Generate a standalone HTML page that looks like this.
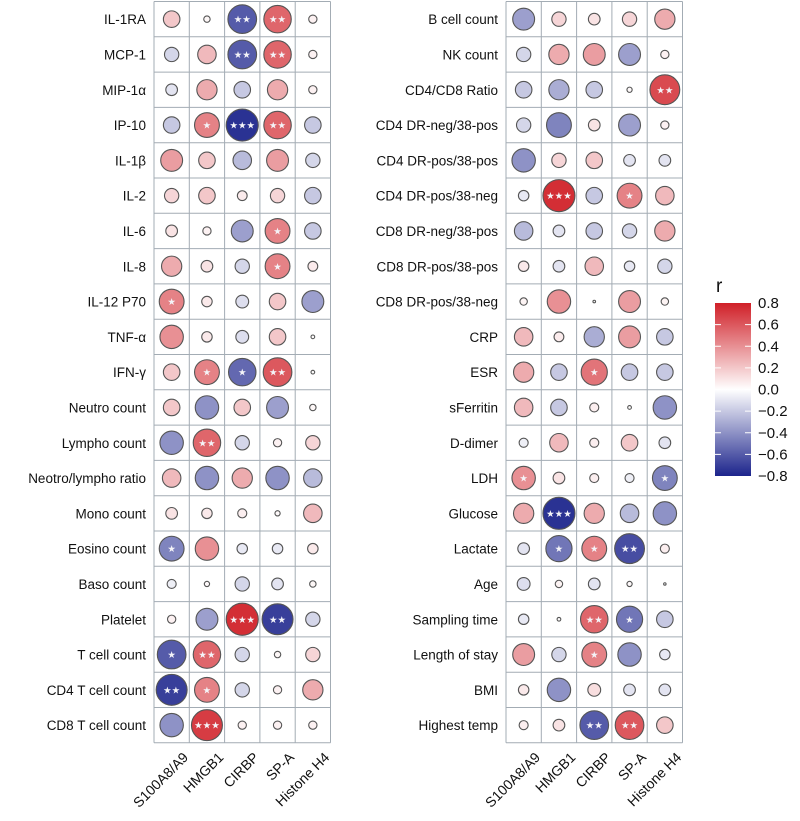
<!DOCTYPE html>
<html><head><meta charset="utf-8"><style>
body{margin:0;background:#fff;}
svg{display:block;font-family:"Liberation Sans",Arial,sans-serif;}
</style></head><body>
<svg id="chart" width="800" height="821" viewBox="0 0 800 821" xmlns="http://www.w3.org/2000/svg"></svg>
<script>
const columns = ["S100A8/A9","HMGB1","CIRBP","SP-A","Histone H4"];
const leftRows = ["IL-1RA","MCP-1","MIP-1α","IP-10","IL-1β","IL-2","IL-6","IL-8","IL-12 P70","TNF-α","IFN-γ","Neutro count","Lympho count","Neotro/lympho ratio","Mono count","Eosino count","Baso count","Platelet","T cell count","CD4 T cell count","CD8 T cell count"];
const leftValues = [
[0.2,0.03,-0.6,0.55,0.05],[-0.15,0.25,-0.6,0.55,0.05],[-0.1,0.3,-0.2,0.3,0.05],[-0.2,0.45,-0.75,0.55,-0.2],
[0.35,0.2,-0.25,0.35,-0.15],[0.15,0.2,0.07,0.15,-0.2],[0.1,0.05,-0.35,0.45,-0.2],[0.3,0.1,-0.15,0.45,0.07],
[0.45,0.08,-0.12,0.2,-0.35],[0.4,0.08,-0.12,0.2,0.01],[0.2,0.45,-0.55,0.6,0.01],[0.2,-0.4,0.2,-0.35,0.03],
[-0.4,0.55,-0.15,0.05,0.15],[0.25,-0.4,0.3,-0.4,-0.25],[0.1,0.08,0.06,0.02,0.25],[-0.45,0.4,-0.08,-0.08,0.08],
[-0.06,0.02,-0.15,-0.1,0.03],[0.05,-0.35,0.75,-0.7,-0.15],[-0.6,0.55,-0.15,0.03,0.15],[-0.7,0.45,-0.15,0.05,0.3],
[-0.4,0.7,0.05,0.05,0.05]];
const leftStars = ["00220","00220","00000","01320","00000","00000","00010","00010","10000","00000","01120","00000","02000","00000","00000","10000","00000","00320","12000","21000","03000"];
const rightRows = ["B cell count","NK count","CD4/CD8 Ratio","CD4 DR-neg/38-pos","CD4 DR-pos/38-pos","CD4 DR-pos/38-neg","CD8 DR-neg/38-pos","CD8 DR-pos/38-pos","CD8 DR-pos/38-neg","CRP","ESR","sFerritin","D-dimer","LDH","Glucose","Lactate","Age","Sampling time","Length of stay","BMI","Highest temp"];
const rightValues = [
[-0.35,0.15,0.1,0.15,0.3],[-0.15,0.3,0.35,-0.35,0.05],[-0.2,-0.3,-0.2,0.02,0.65],[-0.15,-0.45,0.1,-0.35,0.05],
[-0.4,0.15,0.2,-0.1,-0.1],[-0.08,0.75,-0.2,0.45,0.25],[-0.25,-0.1,-0.2,-0.15,0.3],[0.08,-0.1,0.25,-0.08,-0.15],
[0.04,0.4,0.005,0.35,0.04],[0.25,0.07,-0.3,0.35,-0.2],[0.3,-0.2,0.5,-0.2,-0.2],[0.25,-0.2,0.06,0.01,-0.4],
[-0.06,0.25,0.06,0.2,-0.1],[0.4,0.1,0.06,-0.06,-0.45],[0.3,-0.75,0.3,-0.25,-0.4],[-0.1,-0.5,0.45,-0.65,0.06],
[-0.12,0.04,-0.1,0.02,0.003],[-0.08,0.01,0.55,-0.5,-0.2],[0.35,-0.15,0.45,-0.4,-0.08],[0.08,-0.4,0.12,-0.1,-0.1],
[0.06,0.1,-0.6,0.6,0.2]];
const rightStars = ["00000","00000","00002","00000","00000","03010","00000","00000","00000","00000","00100","00000","00000","10001","03000","01120","00000","00210","00100","00000","00220"];
const colorTicks = [0.8,0.6,0.4,0.2,0.0,-0.2,-0.4,-0.6,-0.8];

const NS="http://www.w3.org/2000/svg";
const svg=document.getElementById('chart');
function mk(tag,attrs,parent){const e=document.createElementNS(NS,tag);for(const k in attrs)e.setAttribute(k,attrs[k]);(parent||svg).appendChild(e);return e;}
const rowH=35.3, colW=35.3, y0=1.5;
function rowY(i){return y0+i*rowH;}
function radius(r){return Math.max(1.2,18.5*Math.sqrt(Math.abs(r)));}
function color(r){
  let t=Math.min(1,Math.abs(r)/0.8);
  const end=r>=0?[208,32,40]:[28,36,140];
  const c=end.map(v=>Math.round(255+(v-255)*t));
  return `rgb(${c[0]},${c[1]},${c[2]})`;
}
function panel(x0,rows,values,stars,name){
  const g=mk('g',{});
  
  
  const W=colW*columns.length, H=rowH*rows.length;
  for(let i=0;i<=rows.length;i++){const l=mk('line',{x1:x0,x2:x0+W,y1:rowY(i),y2:rowY(i),stroke:'#a3acb4','stroke-width':1},g);
    
    }
  for(let j=0;j<=columns.length;j++){const l=mk('line',{x1:x0+j*colW,x2:x0+j*colW,y1:y0,y2:y0+H,stroke:'#a3acb4','stroke-width':1},g);
    
    }
  rows.forEach((rn,i)=>{
    const cy=rowY(i)+rowH/2;
    const t=mk('text',{x:x0-8,y:cy+5,'text-anchor':'end','font-size':13.5,fill:'#111'},g);t.textContent=rn;
    
    
    values[i].forEach((v,j)=>{
      const cx=x0+j*colW+colW/2;
      const c=mk('circle',{cx:cx,cy:cy,r:radius(v),fill:color(v),stroke:'#555','stroke-width':1.1},g);
      
      
      const n=+stars[i][j];
      if(n>0){const s=mk('text',{x:cx,y:cy+3.5,'text-anchor':'middle','font-size':9.5,fill:'#f4f4f8'},g);s.textContent='★'.repeat(n);
        
        }
    });
  });
  columns.forEach((cn,j)=>{
    const cx=x0+j*colW+colW/2+10, ty=y0+H+8;
    const t=mk('text',{x:cx,y:ty,'text-anchor':'end','font-size':14,fill:'#111',transform:`rotate(-45 ${cx} ${ty})`,dy:'0.75em'},g);t.textContent=cn;
    
    
  });
}
panel(154,leftRows,leftValues,leftStars,'left-panel');
panel(506,rightRows,rightValues,rightStars,'right-panel');

const bx=715,bw=36,bTop=303,bBot=476;
const defs=mk('defs',{});
const lg=mk('linearGradient',{id:'cg',x1:0,y1:0,x2:0,y2:1},defs);
[[0,'rgb(208,32,40)'],[0.5,'#ffffff'],[1,'rgb(28,36,140)']].forEach(s=>mk('stop',{offset:s[0],'stop-color':s[1]},lg));
const bar=mk('rect',{x:bx,y:bTop,width:bw,height:bBot-bTop,fill:'url(#cg)'});


function barY(v){return bTop+(0.8-v)/1.6*(bBot-bTop);}
colorTicks.forEach(v=>{
  const y=barY(v);
  if(v<0.8&&v>-0.8){mk('line',{x1:bx,x2:bx+6,y1:y,y2:y,stroke:'#fff','stroke-width':1});mk('line',{x1:bx+bw-6,x2:bx+bw,y1:y,y2:y,stroke:'#fff','stroke-width':1});}
  const t=mk('text',{x:758,y:y+5,'font-size':15,fill:'#111'});t.textContent=(v<0?'\u2212':'')+Math.abs(v).toFixed(1);
  
  
});
const rt=mk('text',{x:716,y:292,'font-size':19,fill:'#111'});rt.textContent='r';


</script>
</body></html>
